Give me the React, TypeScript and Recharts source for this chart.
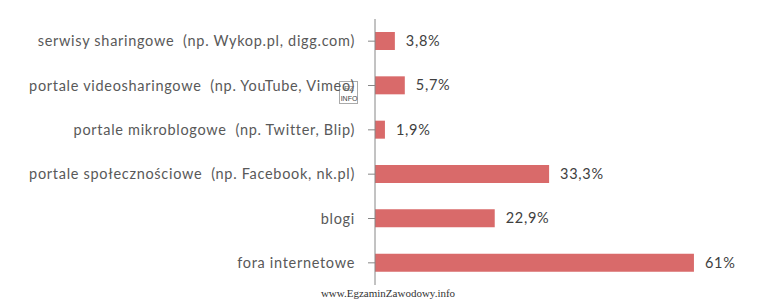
import React from 'react';
import { BarChart, Bar, XAxis, YAxis, LabelList } from 'recharts';

const categories = [
  'serwisy sharingowe\u00a0 (np. Wykop.pl, digg.com)',
  'portale videosharingowe\u00a0 (np. YouTube, Vimeo)',
  'portale mikroblogowe\u00a0 (np. Twitter, Blip)',
  'portale społecznościowe\u00a0 (np. Facebook, nk.pl)',
  'blogi',
  'fora internetowe',
];
const shares = [3.8, 5.7, 1.9, 33.3, 22.9, 61];

const data = categories.map((name, i) => ({ name, value: shares[i] }));

const FONT = 'Lato, "Open Sans", sans-serif';

const formatPct = (v: number) => `${String(v).replace('.', ',')}%`;

export default function App() {
  return (
    <div style={{ position: 'absolute', left: 0, top: 0, width: 781, height: 302, background: '#fff' }}>
      <BarChart
        width={781}
        height={302}
        data={data}
        layout="vertical"
        margin={{ top: 19, right: 40, bottom: 17, left: 0 }}
        barSize={18}
      >
        <XAxis type="number" domain={[0, 70]} hide />
        <YAxis
          type="category"
          dataKey="name"
          width={375}
          interval={0}
          axisLine={{ stroke: '#868686', strokeWidth: 1 }}
          tickLine={{ stroke: '#868686', strokeWidth: 1 }}
          tickSize={7}
          tickMargin={13}
          tick={{ fill: '#595959', fontSize: 14.5, fontFamily: FONT, letterSpacing: 0.7 }}
        />
        <Bar dataKey="value" fill="#D96A6A" isAnimationActive={false}>
          <LabelList
            dataKey="value"
            position="right"
            offset={11}
            formatter={(v: any) => formatPct(Number(v))}
            style={{ fill: '#404040', fontSize: 14.5, fontFamily: FONT, letterSpacing: 0.7 }}
          />
        </Bar>
      </BarChart>
      <svg width={20} height={24} style={{ position: 'absolute', left: 339, top: 81 }}>
        <rect x={0.5} y={0.5} width={18} height={22} fill="none" stroke="#555" strokeDasharray="1 1" />
        <text x={10} y={10} textAnchor="middle" fontSize={8} fill="#666" fontFamily="sans-serif">EZ</text>
        <text x={10} y={20} textAnchor="middle" fontSize={7} fill="#444" fontFamily="sans-serif">INFO</text>
      </svg>
      <div
        style={{
          position: 'absolute',
          left: 0,
          top: 287,
          width: 776,
          textAlign: 'center',
          fontFamily: '"Liberation Serif", "DejaVu Serif", serif',
          fontSize: 11,
          color: '#333',
        }}
      >
        www.EgzaminZawodowy.info
      </div>
    </div>
  );
}
